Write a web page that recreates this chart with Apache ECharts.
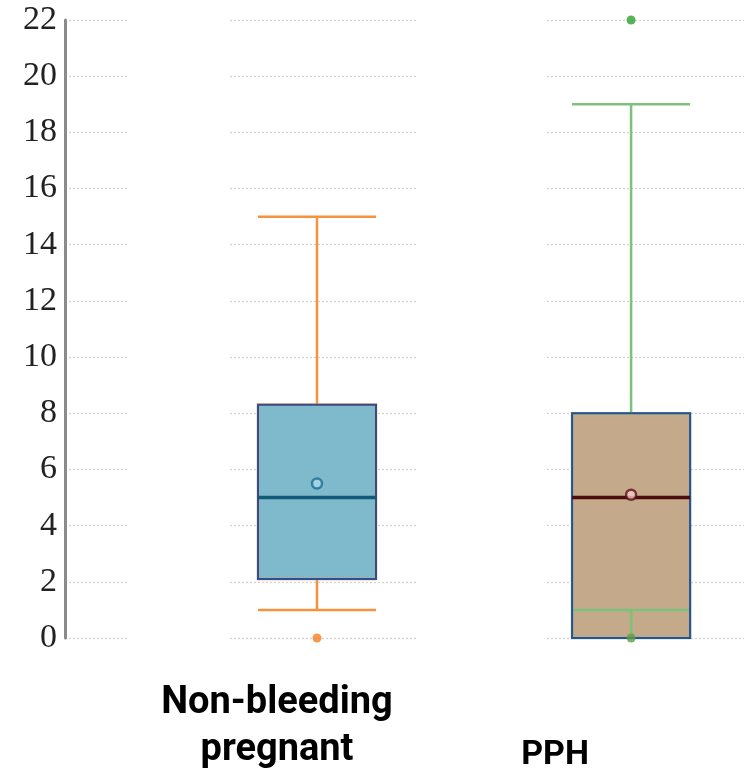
<!DOCTYPE html>
<html lang="en">
<head>
  <meta charset="UTF-8">
  <title>Box plot</title>
  <style>
    html, body { margin: 0; padding: 0; background: #fff; }
  </style>
</head>
<body>
<div id="main" style="width: 744px;height: 777px"></div>
<script type="text/javascript" src="https://cdn.jsdelivr.net/npm/echarts@6/dist/echarts.min.js"></script>
<script>
// data
var categories = ['Non-bleeding pregnant', 'PPH'];
var lowWhisker = [1.0, 1.0];
var q1 = [2.1, 0];
var medians = [5.0, 5.0];
var q3 = [8.3, 8.0];
var highWhisker = [15.0, 19.0];
var means = [5.5, 5.1];
// [category index, value]
var outliers = [[0, 0], [1, 22], [1, 0]];

var boxFill = ['#7ebacb', '#c4a98a'];
var whiskerColor = ['#f7923f', '#7cc27c'];
var medianColor = ['#135a78', '#4b0d0d'];
var meanFill = ['#a9d9e9', '#f4cccc'];
var meanStroke = ['#1d6e92', '#5a1212'];
var outlierColor = ['#f57f20', '#2ca02c', '#5d9d45'];

var TOP = 20, HEIGHT = 618;

function gridLineAxis(idx, visible) {
  return {
    type: 'value', gridIndex: idx, min: 0, max: 22, interval: 2,
    axisLine: { show: visible, lineStyle: { color: '#8a8a8a', width: 3 } },
    axisTick: { show: false },
    axisLabel: {
      show: visible, margin: 8, color: '#222',
      fontFamily: 'Liberation Serif', fontSize: 34
    },
    splitLine: { show: true, lineStyle: { color: '#d2d2d2', type: [2, 2], width: 1.3 } }
  };
}

// categories sit on the ends of the box grid (boundaryGap off)
function boxAxis(show) {
  return {
    type: 'category', gridIndex: 3, data: categories, boundaryGap: false,
    show: show, position: 'bottom',
    axisLine: { show: false }, axisTick: { show: false },
    axisLabel: {
      show: show, interval: 0, margin: 42, verticalAlign: 'top',
      formatter: function (value, i) {
        if (i === 0) {
          return value.split(' ').map(function (w) { return '{a|' + w + '}'; }).join('\n');
        }
        return '{b|' + value + '}';
      },
      rich: {
        a: { fontFamily: 'Roboto', fontWeight: 'bold', fontSize: 38, lineHeight: 47, color: '#000', padding: [0, 80, 0, 0] },
        b: { fontFamily: 'Roboto', fontWeight: 'bold', fontSize: 34, lineHeight: 47, color: '#000', padding: [103, 152, 0, 0] }
      }
    },
    splitLine: { show: false }
  };
}

function boxSeries(name, xIdx, z, values, style) {
  return {
    name: name, type: 'boxplot', xAxisIndex: xIdx, yAxisIndex: 3, z: z,
    boxWidth: [118, 118], silent: true,
    data: categories.map(function (c, i) {
      return { value: values(i), itemStyle: style(i) };
    })
  };
}

var option = {
  animation: false,
  grid: [
    { left: 65, width: 63, top: TOP, height: HEIGHT },
    { left: 230, width: 188, top: TOP, height: HEIGHT },
    { left: 547, width: 197, top: TOP, height: HEIGHT },
    { left: 317, width: 316, top: TOP, height: HEIGHT }
  ],
  xAxis: [
    { type: 'value', gridIndex: 0, show: false },
    { type: 'value', gridIndex: 1, show: false },
    { type: 'value', gridIndex: 2, show: false },
    boxAxis(true),
    boxAxis(false),
    boxAxis(false),
    boxAxis(false)
  ],
  yAxis: [
    gridLineAxis(0, true),
    gridLineAxis(1, false),
    gridLineAxis(2, false),
    { type: 'value', gridIndex: 3, min: 0, max: 22, show: false }
  ],
  series: [
    // box fill
    boxSeries('fill', 4, 2, function (i) {
      return [q1[i], q1[i], q1[i], q3[i], q3[i]];
    }, function (i) {
      return { color: boxFill[i], borderColor: boxFill[i], borderWidth: 0 };
    }),
    // whiskers (and their box outline)
    boxSeries('whiskers', 3, 3, function (i) {
      return [lowWhisker[i], q1[i], medians[i], q3[i], highWhisker[i]];
    }, function (i) {
      return { color: 'rgba(0,0,0,0)', borderColor: whiskerColor[i], borderWidth: 2.5 };
    }),
    // box border
    boxSeries('border', 5, 4, function (i) {
      return [q1[i], q1[i], q1[i], q3[i], q3[i]];
    }, function (i) {
      return { color: 'rgba(0,0,0,0)', borderColor: '#2c4f96', borderWidth: 2 };
    }),
    // median line
    boxSeries('median', 6, 5, function (i) {
      return [medians[i], medians[i], medians[i], medians[i], medians[i]];
    }, function (i) {
      return { color: 'rgba(0,0,0,0)', borderColor: medianColor[i], borderWidth: 3.5 };
    }),
    {
      name: 'mean', type: 'scatter', xAxisIndex: 3, yAxisIndex: 3, z: 6,
      symbol: 'circle', symbolSize: 10,
      data: means.map(function (m, i) {
        return { value: [i, m], itemStyle: { color: meanFill[i], borderColor: meanStroke[i], borderWidth: 2.5 } };
      })
    },
    {
      name: 'outliers', type: 'scatter', xAxisIndex: 3, yAxisIndex: 3, z: 6,
      symbol: 'circle', symbolSize: 9,
      data: outliers.map(function (o, k) {
        return { value: o, itemStyle: { color: outlierColor[k] } };
      })
    }
  ]
};

var myChart = echarts.init(document.getElementById('main'));
myChart.setOption(option);
</script>
</body>
</html>
